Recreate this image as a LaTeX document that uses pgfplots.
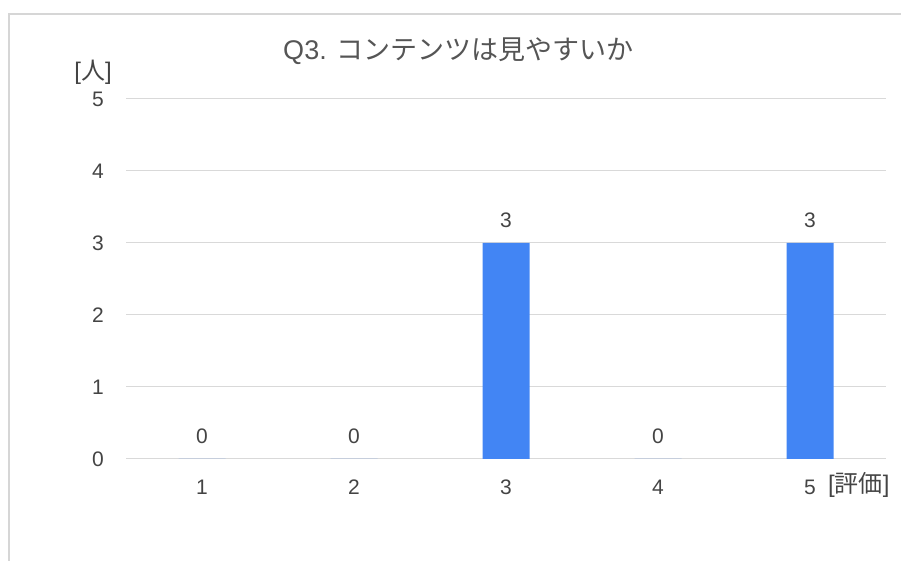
\documentclass[border=0pt]{standalone}
\usepackage{fontspec}
\setmainfont{Liberation Sans}
\newfontfamily\jp{Noto Sans CJK JP}
\usepackage{pgfplots}
\pgfplotsset{compat=1.18}
\definecolor{barblue}{HTML}{4285F4}
\definecolor{gridgray}{HTML}{D9D9D9}
\definecolor{txtgray}{HTML}{444444}
\definecolor{titlegray}{HTML}{555555}
\definecolor{framegray}{HTML}{D6D6D6}
\begin{document}
\begin{tikzpicture}[x=1pt,y=1pt]
\useasboundingbox (0,0) rectangle (901,561);
\draw[framegray, line width=1.2pt] (9,0) -- (9,547) -- (901,547);
\begin{axis}[
  at={(126pt,102pt)}, anchor=south west,
  scale only axis, width=760pt, height=360pt,
  xmin=-0.5, xmax=4.5, ymin=0, ymax=5,
  axis line style={draw=none},
  major tick length=0pt,
  xtick={0,1,2,3,4}, xticklabels={1,2,3,4,5},
  ytick={0,1,2,3,4,5},
  ymajorgrids, grid style={gridgray, line width=1pt},
  /pgf/number format/assume math mode=true,
  tick label style={font=\fontsize{21}{24}\selectfont, text=txtgray, inner sep=0pt},
  xticklabel style={anchor=base, yshift=-35.5pt},
  yticklabel style={anchor=east, xshift=-22pt},
  ybar, bar width=47pt,
  nodes near coords,
  every node near coord/.append style={font=\fontsize{21}{24}\selectfont, text=txtgray, anchor=base, inner sep=0pt, yshift=15.5pt},
  clip=false,
]
\addplot[fill=barblue, draw=none] coordinates {(0,0) (1,0) (2,3) (3,0) (4,3)};
\end{axis}
\node[anchor=base, text=titlegray, font=\fontsize{27}{30}\selectfont] at (458.5,501) {Q3. {\jp コンテンツは見やすいか}};
\node[anchor=base, text=txtgray, font=\fontsize{24}{26}\selectfont, inner sep=0pt] at (93,481) {[{\jp 人}]};
\node[anchor=base west, text=txtgray, font=\fontsize{24}{26}\selectfont, inner sep=0pt] at (828,68) {[{\jp 評価}]};
\end{tikzpicture}
\end{document}
